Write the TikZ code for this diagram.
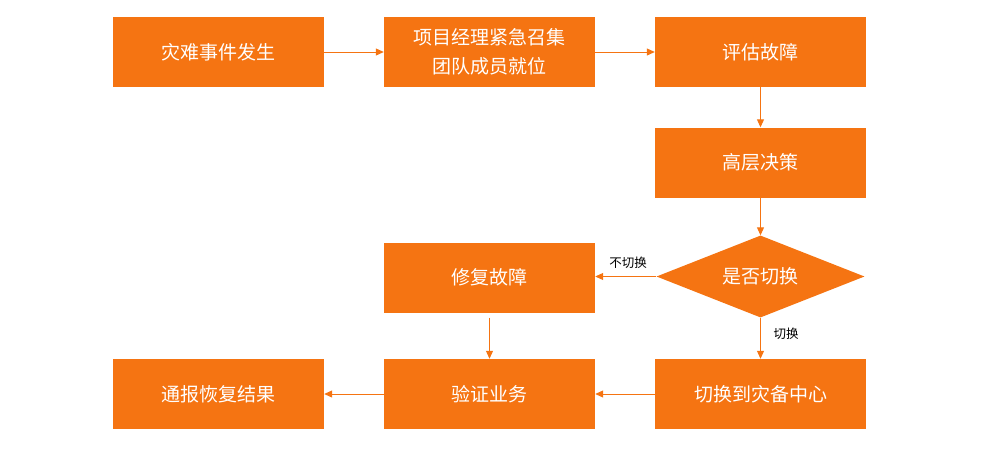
\documentclass[tikz,border=0pt]{standalone}
\usepackage{fontspec}
\newfontfamily\cjk{Noto Sans CJK SC}
\usetikzlibrary{arrows.meta,shapes.geometric}
\definecolor{org}{RGB}{245,116,18}
\begin{document}
\begin{tikzpicture}[x=1pt,y=-1pt,
  box/.style={fill=org, minimum width=211pt, minimum height=70pt, inner sep=0pt,
    text=white, font=\cjk\fontsize{19}{29}\selectfont, align=center},
  dia/.style={diamond, fill=org, aspect=2.54, minimum width=208pt, minimum height=82pt,
    inner sep=0pt, text=white, font=\cjk\fontsize{19}{29}\selectfont},
  arr/.style={draw=org, line width=1pt, -{Triangle[length=8pt,width=7pt]}},
  lbl/.style={font=\cjk\fontsize{12.5}{15}\selectfont, text=black, inner sep=0pt}]
\useasboundingbox (0,0) rectangle (985,450);
\node[box] (b1) at (218.5,52) {灾难事件发生};
\node[box] (b2) at (489.5,52) {项目经理紧急召集\\团队成员就位};
\node[box] (b3) at (760.5,52) {评估故障};
\node[box] (b4) at (760.5,162.5) {高层决策};
\node[dia] (d) at (760.5,276.5) {是否切换};
\node[box] (b5) at (489.5,277.5) {修复故障};
\node[box] (b6) at (760.5,394) {切换到灾备中心};
\node[box] (b7) at (489.5,394) {验证业务};
\node[box] (b8) at (218.5,394) {通报恢复结果};
\draw[arr] (b1) -- (b2);
\draw[arr] (b2) -- (b3);
\draw[arr] (b3) -- (b4);
\draw[arr] (b4) -- (d);
\draw[arr] (d.west) -- (d.west -| b5.east);
\draw[arr] (d) -- (b6);
\draw[arr, shorten <=5pt] (b5) -- (b7);
\draw[arr] (b6) -- (b7);
\draw[arr] (b7) -- (b8);
\node[lbl] (l1) at (628,263) {不切换};
\node[lbl] (l2) at (786,334) {切换};
\end{tikzpicture}
\end{document}
